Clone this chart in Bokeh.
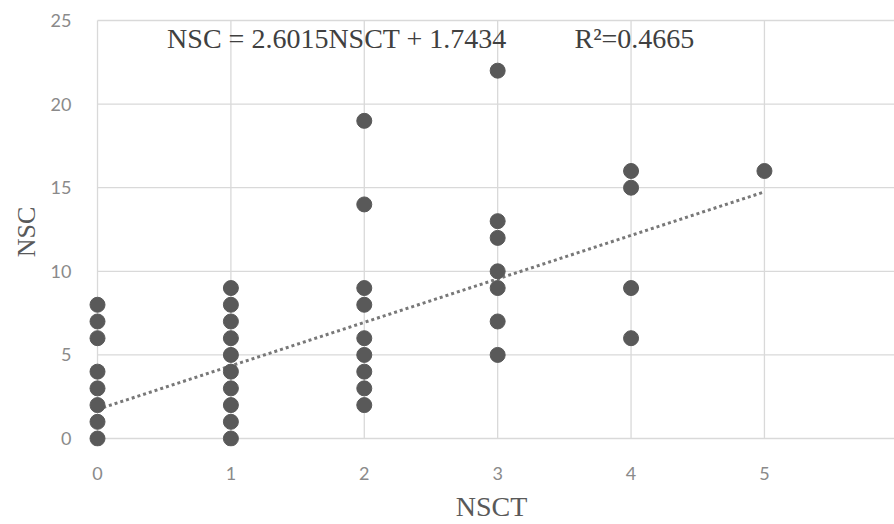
from bokeh.plotting import figure
from bokeh.models import Range1d, FixedTicker, Label
from bokeh.embed import file_html
from bokeh.resources import INLINE

# ---- data ----
nsct = [0, 0, 0, 0, 0, 0, 0, 0,
        1, 1, 1, 1, 1, 1, 1, 1, 1, 1,
        2, 2, 2, 2, 2, 2, 2, 2, 2,
        3, 3, 3, 3, 3, 3, 3,
        4, 4, 4, 4,
        5]
nsc = [0, 1, 2, 3, 4, 6, 7, 8,
       0, 1, 2, 3, 4, 5, 6, 7, 8, 9,
       2, 3, 4, 5, 6, 8, 9, 14, 19,
       5, 7, 9, 10, 12, 13, 22,
       6, 9, 15, 16,
       16]

slope = 2.6015
intercept = 1.7434
r_squared = 0.4665
trend_x = [0, 5]
trend_y = [slope * v + intercept for v in trend_x]

x_ticks = [0, 1, 2, 3, 4, 5, 6]
y_ticks = [0, 5, 10, 15, 20, 25]

equation_text = "NSC = 2.6015NSCT + 1.7434"
r2_text = "R\u00b2=0.4665"

# ---- figure ----
p = figure(width=894, height=524,
           x_range=Range1d(-0.0675, 5.975), y_range=Range1d(-0.477, 25.18),
           output_backend="svg", toolbar_location=None,
           min_border_left=88, min_border_right=0,
           min_border_top=17, min_border_bottom=77)
p.outline_line_color = None
p.background_fill_color = "white"
p.border_fill_color = "white"
p.xgrid.visible = False
p.ygrid.visible = False

grid_color = "#d9d9d9"
p.segment(x0=x_ticks, y0=[y_ticks[0]] * len(x_ticks),
          x1=x_ticks, y1=[y_ticks[-1]] * len(x_ticks),
          line_color=grid_color, line_width=1.3)
p.segment(x0=[x_ticks[0]] * len(y_ticks), y0=y_ticks,
          x1=[x_ticks[-1]] * len(y_ticks), y1=y_ticks,
          line_color=grid_color, line_width=1.3)

p.line(trend_x, trend_y, line_color="#787878", line_width=3, line_dash="3 3")
p.scatter(nsct, nsc, size=15, fill_color="#595959", line_color="#595959")

for ax, ticks in ((p.xaxis, x_ticks), (p.yaxis, y_ticks)):
    ax.ticker = FixedTicker(ticks=ticks)
    ax.axis_line_color = None
    ax.major_tick_line_color = None
    ax.minor_tick_line_color = None
    ax.major_label_text_font = "Lato"
    ax.major_label_text_font_size = "18px"
    ax.major_label_text_color = "#8a8a8a"
    ax.axis_label_text_font = "Liberation Serif"
    ax.axis_label_text_font_style = "normal"
    ax.axis_label_text_color = "#595959"

p.xaxis.axis_label = "NSCT"
p.xaxis.axis_label_text_font_size = "28px"
p.xaxis.major_label_standoff = 14
p.xaxis.axis_label_standoff = 8

p.yaxis.axis_label = "NSC"
p.yaxis.axis_label_text_font_size = "26px"
p.yaxis.major_label_standoff = 11
p.yaxis.axis_label_standoff = 7

p.add_layout(Label(x=1.795, y=23.95, text=equation_text,
                   text_align="center", text_baseline="middle",
                   text_font="Liberation Serif", text_font_size="28px",
                   text_color="#404040"))
p.add_layout(Label(x=4.025, y=23.95, text=r2_text,
                   text_align="center", text_baseline="middle",
                   text_font="Liberation Serif", text_font_size="28px",
                   text_color="#404040"))

open("out.html", "w").write(file_html(p, INLINE))
